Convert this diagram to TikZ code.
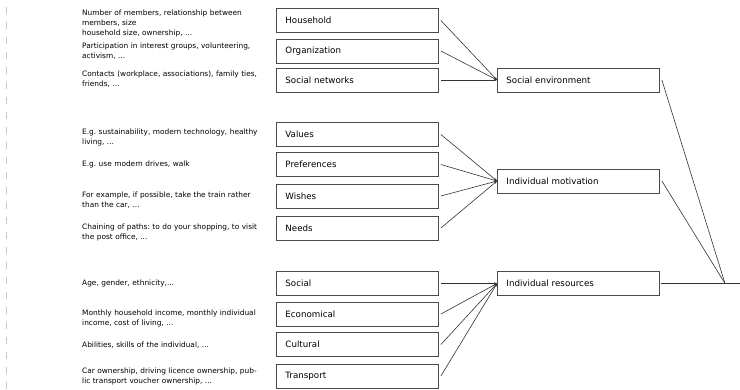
\documentclass[tikz,border=0pt]{standalone}
\usepackage{fontspec}
\setmainfont{DejaVu Sans}
\usetikzlibrary{arrows.meta}
\frenchspacing

\definecolor{boxgray}{HTML}{4A4A4A}
\definecolor{linegray}{HTML}{333333}
\definecolor{railgray}{HTML}{C8C8C8}

\tikzset{
  box/.style={draw=boxgray, line width=0.9pt, anchor=west, minimum height=24pt,
    text width=144pt, inner xsep=9pt, inner ysep=0pt, align=left,
    font=\fontsize{8.7}{10}\selectfont, text=black},
  descr/.style={anchor=west, text width=190pt, inner sep=0pt, align=left,
    font=\fontsize{7.4}{10}\selectfont, text=black},
  link/.style={draw=linegray, line width=0.6pt, -{Stealth[length=3pt,width=2.4pt]}},
  mergeline/.style={draw=linegray, line width=0.6pt}
}

\begin{document}
\begin{tikzpicture}[x=1pt,y=-1pt]
\useasboundingbox (0,0) rectangle (740,389);

% left rail
\draw[railgray, line width=0.8pt, dash pattern=on 7pt off 8pt] (6,7) -- (6,389);

% --- Social environment ---
\node[descr] (hhd) at (82,23.5) {Number of members, relationship between\\members, size\\household size, ownership, ...};
\node[descr] (orgd) at (82,51.5) {Participation in interest groups, volunteering,\\activism, ...};
\node[descr] (netd) at (82,79.5) {Contacts (workplace, associations), family ties,\\friends, ...};

\node[box] (hh) at (276,20.5) {Household};
\node[box] (org) at (276,51) {Organization};
\node[box] (net) at (276,80) {Social networks};
\node[box] (senv) at (497,80) {Social environment};

\draw[link] ([xshift=2pt]hh.east) -- (senv.west);
\draw[link] ([xshift=2pt]org.east) -- (senv.west);
\draw[link] ([xshift=2pt]net.east) -- (senv.west);

% --- Individual motivation ---
\node[descr] (vald) at (82,137) {E.g. sustainability, modern technology, healthy\\living, ...};
\node[descr] (prefd) at (82,164.5) {E.g. use modern drives, walk};
\node[descr] (wishd) at (82,200.5) {For example, if possible, take the train rather\\than the car, ...};
\node[descr] (needd) at (82,232.5) {Chaining of paths: to do your shopping, to visit\\the post office, ...};

\node[box] (val) at (276,134.5) {Values};
\node[box] (pref) at (276,164.5) {Preferences};
\node[box] (wish) at (276,196) {Wishes};
\node[box] (need) at (276,228) {Needs};
\node[box] (motiv) at (497,181) {Individual motivation};

\draw[link] ([xshift=2pt]val.east) -- (motiv.west);
\draw[link] ([xshift=2pt]pref.east) -- (motiv.west);
\draw[link] ([xshift=2pt]wish.east) -- (motiv.west);
\draw[link] ([xshift=2pt]need.east) -- (motiv.west);

% --- Individual resources ---
\node[descr] (socd) at (82,283.5) {Age, gender, ethnicity,...};
\node[descr] (ecod) at (82,318.5) {Monthly household income, monthly individual\\income, cost of living, ...};
\node[descr] (cultd) at (82,345.5) {Abilities, skills of the individual, ...};
\node[descr] (transd) at (82,376) {Car ownership, driving licence ownership, pub-\\lic transport voucher ownership, ...};

\node[box] (soc) at (276,283.5) {Social};
\node[box] (eco) at (276,314) {Economical};
\node[box] (cult) at (276,344.5) {Cultural};
\node[box] (trans) at (276,376) {Transport};
\node[box] (res) at (497,283.5) {Individual resources};

\draw[link] ([xshift=2pt]soc.east) -- (res.west);
\draw[link] ([xshift=2pt]eco.east) -- (res.west);
\draw[link] ([xshift=2pt]cult.east) -- (res.west);
\draw[link] ([xshift=2pt]trans.east) -- (res.west);

% --- merge on the right ---
\coordinate (merge) at (725,283.5);
\coordinate (exit) at (740,283.5);
\draw[mergeline] ([xshift=2pt]senv.east) -- (merge);
\draw[mergeline] ([xshift=2pt]motiv.east) -- (merge);
\draw[mergeline] ([xshift=1pt]res.east) -- (exit);

\end{tikzpicture}
\end{document}
